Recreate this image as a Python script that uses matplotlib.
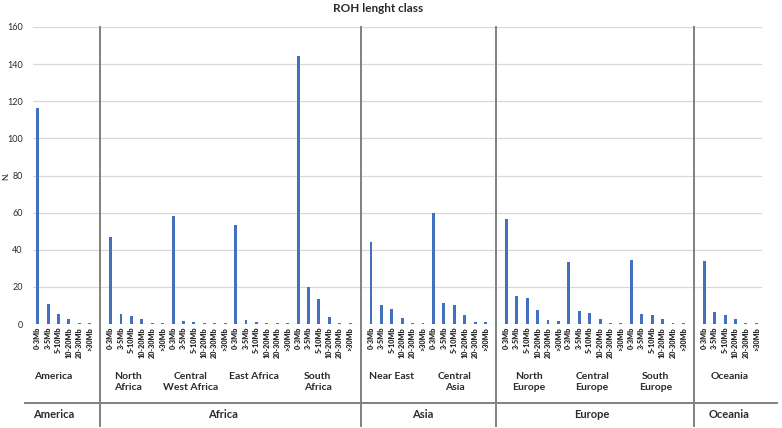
import matplotlib
matplotlib.use("Agg")
import matplotlib.pyplot as plt
from matplotlib.lines import Line2D
import numpy as np

plt.rcParams['font.family'] = ['Lato', 'DejaVu Sans']

classes = ["0-3Mb", "3-5Mb", "5-10Mb", "10-20Mb", "20-30Mb", ">30Mb"]
continents = ["America", "Africa", "Asia", "Europe", "Oceania"]
regions = {
    "America": ["America"],
    "Africa": ["North\nAfrica", "Central\nWest Africa", "East Africa", "South\nAfrica"],
    "Asia": ["Near East", "Central\nAsia"],
    "Europe": ["North\nEurope", "Central\nEurope", "South\nEurope"],
    "Oceania": ["Oceania"],
}
america = [116.2, 10.8, 5.2, 2.5, 0.7, 0.4]
north_africa = [46.7, 5.6, 4.5, 2.5, 0.7, 0.5]
central_west_africa = [58.2, 1.4, 1.1, 0.7, 0.5, 0.4]
east_africa = [53.3, 2.0, 1.3, 0.7, 0.4, 0.3]
south_africa = [144.4, 19.9, 13.3, 4.0, 0.7, 0.5]
near_east = [44.4, 10.4, 8.1, 3.2, 0.7, 0.4]
central_asia = [60.0, 11.5, 10.1, 4.8, 1.3, 1.1]
north_europe = [56.4, 14.9, 14.0, 7.7, 2.2, 1.4]
central_europe = [33.6, 7.0, 5.9, 2.9, 0.7, 0.4]
south_europe = [34.3, 5.6, 4.8, 2.5, 0.7, 0.4]
oceania = [33.9, 6.3, 4.8, 2.5, 0.4, 0.4]
values = {
    "America": [america],
    "Africa": [north_africa, central_west_africa, east_africa, south_africa],
    "Asia": [near_east, central_asia],
    "Europe": [north_europe, central_europe, south_europe],
    "Oceania": [oceania],
}

W, H = 782, 428
fig = plt.figure(figsize=(W / 100, H / 100), dpi=100)
ax = fig.add_axes([32.5 / W, 104 / H, 729 / W, 297 / H])

bar_color = "#4270BE"
text_color = "#2b2b2b"

xs, hs, labels = [], [], []
sub_pos = []      # (center, name)
cont_pos = []     # (center, name)
dividers = []
i = 0
for ci, cont in enumerate(continents):
    start = i
    for name, vals in zip(regions[cont], values[cont]):
        sub_start = i
        for lab, v in zip(classes, vals):
            xs.append(i)
            hs.append(v)
            labels.append(lab)
            i += 1
        sub_pos.append(((sub_start + i - 1) / 2, name))
    cont_pos.append(((start + i - 1) / 2, cont))
    if ci < len(continents) - 1:
        dividers.append(i)
        i += 1

ax.bar(xs, hs, width=0.28, color=bar_color, zorder=3)
ax.set_xlim(-0.5, i - 0.5)
ax.set_ylim(0, 160)
ax.set_yticks(np.arange(0, 161, 20))
ax.yaxis.grid(True, color="#d9d9d9", linewidth=0.9, zorder=0)
ax.tick_params(axis="y", length=0, labelsize=6.5, labelcolor=text_color, pad=7)
ax.set_xticks(xs)
ax.set_xticklabels(labels, rotation=90, fontsize=5.2, fontweight="heavy", color=text_color)
ax.tick_params(axis="x", length=0, pad=2)
for s in ax.spines.values():
    s.set_visible(False)

fig.text(5.5 / W, (H - 176) / H, "N.", rotation=90, ha="center", va="center",
         fontsize=6, color=text_color)

trans = ax.get_xaxis_transform()
for d in dividers:
    ax.plot([d, d], [1.0, (324 - 426) / 297], transform=trans, color="#808080",
            linewidth=1.4, clip_on=False, zorder=4)

fig.add_artist(Line2D([25 / W, 777 / W], [(H - 403) / H] * 2, color="#808080", linewidth=1.4))

def lab_x(c):
    return 1.0137 * c - 1.0

for c, name in sub_pos:
    ax.text(lab_x(c), (324 - 372) / 297, name, transform=trans, ha="center", va="top",
            fontsize=7.5, fontweight="bold", color=text_color, linespacing=1.25)
for c, name in cont_pos:
    ax.text(lab_x(c), (324 - 415) / 297, name, transform=trans, ha="center", va="center",
            fontsize=8, fontweight="bold", color=text_color)

fig.text(378 / W, (H - 9) / H, "ROH lenght class", ha="center", va="center",
         fontsize=8.5, fontweight="bold", color=text_color)

fig.savefig("out.png", dpi=100)
